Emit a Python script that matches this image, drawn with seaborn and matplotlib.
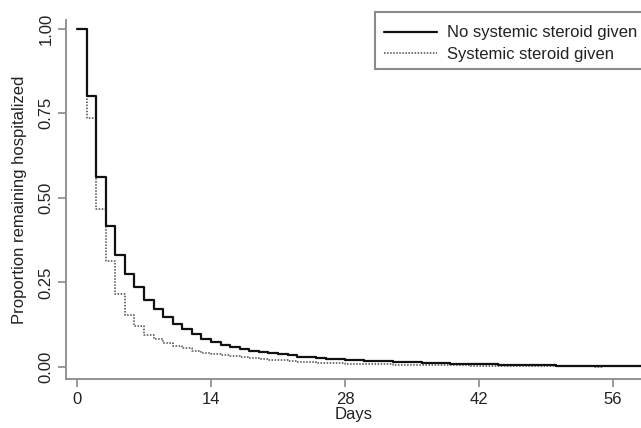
import matplotlib
matplotlib.use("Agg")
import matplotlib.pyplot as plt
import seaborn as sns
import pandas as pd
from matplotlib.lines import Line2D
from matplotlib.patches import Rectangle

sns.set_theme(style="white")
plt.rcParams['font.family'] = ['Liberation Sans', 'DejaVu Sans']

days_no = list(range(0, 60))
surv_no = [1.00, 0.80, 0.56, 0.417, 0.33, 0.275, 0.235, 0.197, 0.171, 0.147,
           0.126, 0.111, 0.097, 0.084, 0.073, 0.064, 0.058, 0.052, 0.047, 0.043,
           0.040, 0.037, 0.034, 0.031, 0.029, 0.027, 0.025, 0.023, 0.021, 0.020,
           0.019, 0.018, 0.017, 0.016, 0.015, 0.014, 0.013, 0.012, 0.011, 0.010,
           0.009, 0.009, 0.008, 0.008, 0.007, 0.007, 0.006, 0.006, 0.005, 0.005,
           0.004, 0.004, 0.003, 0.003, 0.003, 0.002, 0.002, 0.002, 0.002, 0.002]
days_st = list(range(0, 56))
surv_st = [1.00, 0.735, 0.468, 0.314, 0.216, 0.155, 0.122, 0.095, 0.082, 0.070,
           0.061, 0.055, 0.048, 0.042, 0.038, 0.035, 0.032, 0.029, 0.026, 0.024,
           0.022, 0.020, 0.018, 0.016, 0.015, 0.013, 0.012, 0.011, 0.010, 0.009,
           0.009, 0.008, 0.008, 0.007, 0.007, 0.006, 0.006, 0.006, 0.005, 0.005,
           0.005, 0.004, 0.004, 0.004, 0.004, 0.003, 0.003, 0.003, 0.003, 0.002,
           0.002, 0.002, 0.002, 0.002, 0.001, 0.001]
labels = ["No systemic steroid given", "Systemic steroid given"]
x_ticks = [0, 14, 28, 42, 56]
y_ticks = [0.00, 0.25, 0.50, 0.75, 1.00]

df_no = pd.DataFrame({"Days": days_no, "Surv": surv_no})
df_st = pd.DataFrame({"Days": days_st, "Surv": surv_st})

W, H = 641, 428
fig = plt.figure(figsize=(W / 100, H / 100), dpi=100)
ax = fig.add_axes([66 / W, 1 - 379 / H, 1 - 66 / W, (379 - 20) / H])

axcol = "#8a8a8a"
sns.lineplot(data=df_st, x="Days", y="Surv", ax=ax, drawstyle="steps-post",
             color="#4a4a4a", linewidth=1.1, linestyle=(0, (1, 1)))
sns.lineplot(data=df_no, x="Days", y="Surv", ax=ax, drawstyle="steps-post",
             color="#111111", linewidth=1.6)

ax.set_xlim(-11 / 9.571, (641 - 77) / 9.571)
ax.set_ylim(-12 / 338.5, 1 + 8.5 / 338.5)
ax.set_xticks(x_ticks)
ax.set_yticks(y_ticks)
ax.set_yticklabels([f"{v:.2f}" for v in y_ticks], rotation=90, va="center")
for s in ["top", "right"]:
    ax.spines[s].set_visible(False)
for s in ["left", "bottom"]:
    ax.spines[s].set_color(axcol)
    ax.spines[s].set_linewidth(1.3)
ax.tick_params(axis="both", direction="out", length=6, width=1.2, color=axcol,
               labelsize=12, labelcolor="#222222", pad=3, left=True, bottom=True)
ax.set_xlabel("Days", fontsize=12, color="#222222", labelpad=0)
ax.set_ylabel("Proportion remaining hospitalized", fontsize=12, color="#222222", labelpad=8)
ax.grid(False)

# legend frame (extends past the right edge as in the reference)
fig.patches.append(Rectangle((375 / W, 1 - 69 / H), 300 / W, 57 / H,
                             transform=fig.transFigure, facecolor="white",
                             edgecolor=axcol, linewidth=1.5, zorder=3))

handles = [Line2D([], [], color="#111111", linewidth=1.6),
           Line2D([], [], color="#4a4a4a", linewidth=1.1, linestyle=(0, (1, 1)))]
leg = fig.legend(handles, labels, loc="upper left",
                 bbox_to_anchor=(384 / W, 1 - 25.5 / H), bbox_transform=fig.transFigure,
                 fontsize=12, frameon=False, handlelength=3.2,
                 handletextpad=0.6, borderpad=0.0, labelspacing=0.37,
                 borderaxespad=0)
leg.set_zorder(4)
for t in leg.get_texts():
    t.set_color("#222222")

fig.savefig("out.png", dpi=100)
